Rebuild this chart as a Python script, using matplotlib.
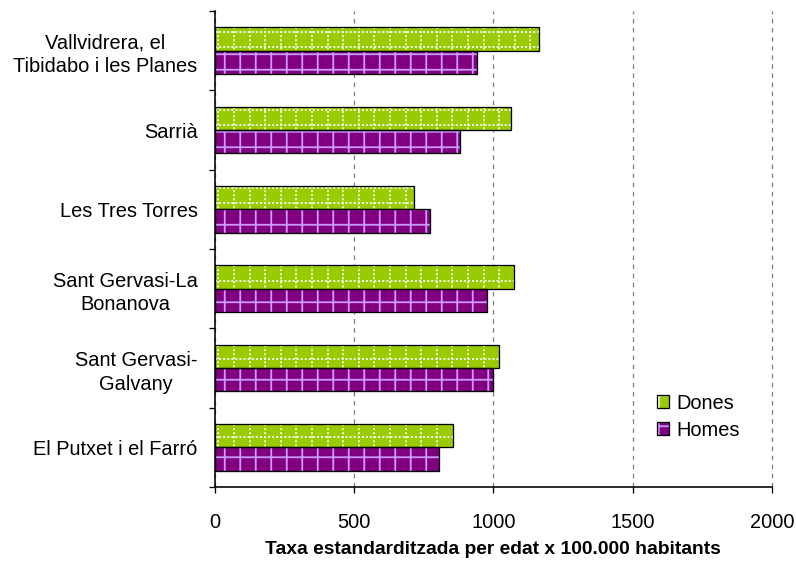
import matplotlib
matplotlib.use("Agg")
import matplotlib.pyplot as plt
from matplotlib.patches import Patch
import numpy as np

# ---- data -------------------------------------------------------------
categories = [
    "Vallvidrera, el\nTibidabo i les Planes",
    "Sarrià",
    "Les Tres Torres",
    "Sant Gervasi-La\nBonanova",
    "Sant Gervasi-\nGalvany",
    "El Putxet i el Farró",
]
dones = [1165, 1062, 714, 1073, 1021, 857]
homes = [943, 881, 773, 979, 1000, 804]
x_ticks = [0, 500, 1000, 1500, 2000]
series_labels = ["Dones", "Homes"]
x_label = "Taxa estandarditzada per edat x 100.000 habitants"

# ---- style ------------------------------------------------------------
DPI = 93.6
W, H = 796, 562
plt.rcParams["font.family"] = ["Liberation Sans", "DejaVu Sans"]
plt.rcParams["hatch.linewidth"] = 1.4

GREEN = "#99CC00"
PURPLE = "#800080"
LAVENDER = "#CC99FF"


def pt(v):
    """pixels -> points"""
    return v * 72.0 / DPI


FS = pt(20)
EDGE_LW = pt(1.3)

fig = plt.figure(figsize=((W + 0.01) / DPI, (H + 0.01) / DPI), dpi=DPI)
left, right, top, bottom = 214.5, 772, 11, 487
ax = fig.add_axes([left / W, 1 - bottom / H, (right - left) / W, (bottom - top) / H])

n = len(categories)
y = np.arange(n)
bh = 0.295
ax.set_xlim(0, 2000)
ax.set_ylim(n - 0.5, -0.5)

yd = y - bh / 2
yh = y + bh / 2

# filled bars
ax.barh(yd, dones, height=bh, color=GREEN, linewidth=0, zorder=2)
ax.barh(yh, homes, height=bh, color=PURPLE, edgecolor=LAVENDER, hatch="+",
        linewidth=0, zorder=2)

# dotted white grid pattern inside the green bars
step = DPI / 6.0
tr = ax.transData
inv = tr.inverted()
for yc, w in zip(yd, dones):
    (x0, ya), (x1, yb) = tr.transform([(0, yc - bh / 2), (w, yc + bh / 2)])
    ylo, yhi = min(ya, yb), max(ya, yb)
    xs = np.arange(np.ceil((x0 + 1.5) / step), np.floor((x1 - 1.5) / step) + 1) * step
    ys = np.arange(np.ceil((ylo + 1.5) / step), np.floor((yhi - 1.5) / step) + 1) * step
    if len(xs):
        xd = inv.transform(np.column_stack([xs, np.full_like(xs, ylo)]))[:, 0]
        ax.vlines(xd, yc - bh / 2, yc + bh / 2, colors="white",
                  linestyles=(0, (1.2, 1.2)), linewidth=pt(1.7), zorder=3)
    if len(ys):
        ydd = inv.transform(np.column_stack([np.full_like(ys, x0), ys]))[:, 1]
        ax.hlines(ydd, 0, w, colors="white",
                  linestyles=(0, (1.2, 1.2)), linewidth=pt(1.7), zorder=3)

# bar outlines
ax.barh(yd, dones, height=bh, fill=False, edgecolor="black", linewidth=EDGE_LW, zorder=4)
ax.barh(yh, homes, height=bh, fill=False, edgecolor="black", linewidth=EDGE_LW, zorder=4)

# ---- axes -------------------------------------------------------------
ax.set_xticks(x_ticks)
ax.set_xticklabels([str(v) for v in x_ticks])
ax.tick_params(axis="x", direction="out", length=pt(6), width=EDGE_LW,
               pad=pt(20), labelsize=FS, colors="black")

ax.set_yticks(y)
ax.set_yticklabels(categories)
ax.set_yticks(np.arange(-0.5, n, 1.0), minor=True)
ax.tick_params(axis="y", which="major", length=0, pad=pt(17), labelsize=FS)
ax.tick_params(axis="y", which="minor", direction="out", length=pt(6), width=EDGE_LW)
for lbl in ax.get_yticklabels():
    lbl.set_multialignment("center")
    lbl.set_linespacing(1.3)

ax.xaxis.grid(True, color="#808080", linestyle=(0, (3.5, 3.5)), linewidth=pt(1.3))
ax.set_axisbelow(True)
for gl in ax.get_xgridlines():
    gl.set_clip_on(False)

for s in ("top", "right"):
    ax.spines[s].set_visible(False)
for s in ("left", "bottom"):
    ax.spines[s].set_linewidth(pt(1.6))
    ax.spines[s].set_color("black")
    ax.spines[s].set_zorder(5)

fig.text(493 / W, 1 - 549 / H, x_label, ha="center", va="center",
         fontsize=pt(19.3), fontweight="bold")

# ---- legend -----------------------------------------------------------
h_d = (Patch(facecolor=GREEN, edgecolor="white", hatch="+", linewidth=0),
       Patch(fill=False, edgecolor="black", linewidth=EDGE_LW))
h_h = (Patch(facecolor=PURPLE, edgecolor=LAVENDER, hatch="+", linewidth=0),
       Patch(fill=False, edgecolor="black", linewidth=EDGE_LW))
fig.legend([h_d, h_h], series_labels, loc="center left",
           bbox_to_anchor=(657 / W, 1 - 416.5 / H), frameon=False, fontsize=FS,
           handlelength=0.6, handleheight=0.6, handletextpad=0.35,
           labelspacing=0.4, borderpad=0, borderaxespad=0)

fig.savefig("out.png", dpi=DPI)
